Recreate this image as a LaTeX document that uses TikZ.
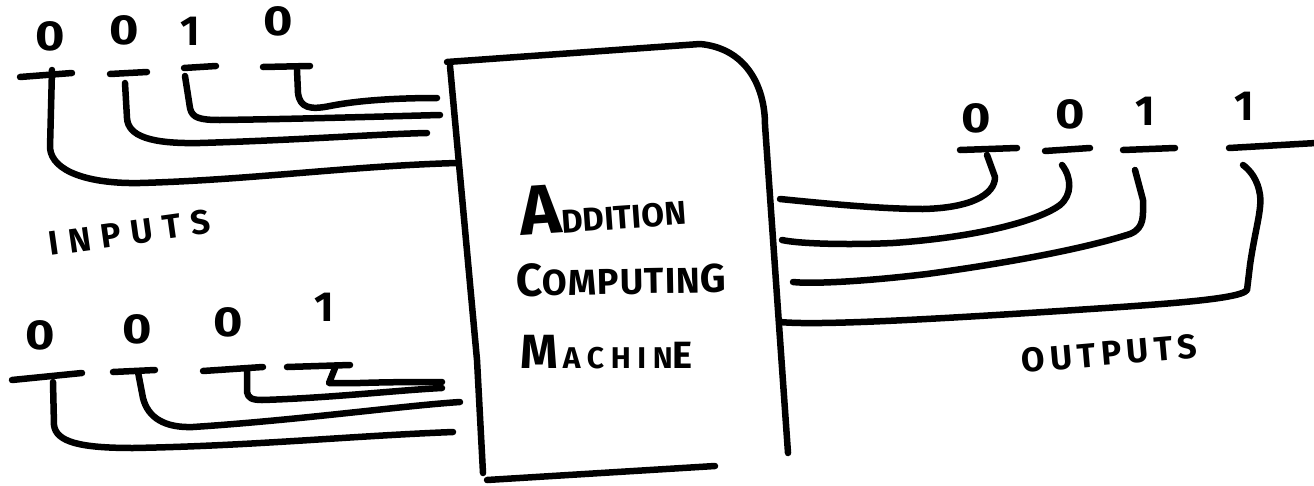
\documentclass[tikz,border=0pt]{standalone}
\usepackage{fontspec}
\setmainfont{Fira Sans}
\newcommand{\zero}{\scalebox{1.2}[1]{0}}
\newcommand{\fs}[1]{\fontsize{#1}{#1}\selectfont}
\begin{document}
\begin{tikzpicture}[x=1pt,y=-1pt,
  wire/.style={line width=6.5pt,line cap=round,line join=round},
  pad/.style={line width=6.5pt,line cap=round},
  digit/.style={inner sep=0pt,font=\fontsize{42}{42}\bfseries\selectfont},
  word/.style={inner sep=0pt,anchor=base west,font=\bfseries}]
\useasboundingbox (0,0) rectangle (1314,485);

% ---------- machine ----------
\coordinate (boxTL) at (447,62);
\draw[wire] (boxTL) -- (700,44) .. controls (745,48) and (765,85) .. (765,125) -- (788,453);
\draw[wire] (450,66) -- (477,360) -- (483,473);
\draw[wire] (487,480) -- (715,466);
\node[word,rotate=4] (line1) at (521,236)
  {\fs{70}A\fs{33}DDITION};
\node[word,rotate=1] (line2) at (516,296)
  {\fs{46}C\fs{36}\addfontfeature{LetterSpace=3}OMPUTIN\fs{40}G};
\node[word] (line3) at (520,368)
  {\fs{48}M\hspace{5pt}\fs{30}\addfontfeature{LetterSpace=22}ACHIN\fs{38}E};

% ---------- first input word ----------
\node[digit] (a1) at (50,36) {\zero};
\node[digit] (a2) at (124,30) {\zero};
\node[digit] (a3) at (190,31) {1};
\node[digit] (a4) at (278,21) {\zero};
\coordinate (pa1l) at (20,77); \coordinate (pa1r) at (72,73);
\coordinate (pa2l) at (110,74); \coordinate (pa2r) at (147,72);
\coordinate (pa3l) at (184,68); \coordinate (pa3r) at (216,66);
\coordinate (pa4l) at (263,67); \coordinate (pa4r) at (310,66);
\foreach \i in {1,...,4} \draw[pad] (pa\i l) -- (pa\i r);
\coordinate (ta1) at (52,70);  \coordinate (ba1) at (457,163);
\coordinate (ta2) at (125,83); \coordinate (ba2) at (427,133);
\coordinate (ta3) at (185,76); \coordinate (ba3) at (440,115);
\coordinate (ta4) at (297,70); \coordinate (ba4) at (437,98);
\draw[wire] (ta1) -- (50,148) .. controls (52,172) and (90,184) .. (140,183) .. controls (250,180) and (350,166) .. (ba1);
\draw[wire] (ta2) -- (127,118) .. controls (128,136) and (150,144) .. (200,143) .. controls (300,140) and (380,134) .. (ba2);
\draw[wire] (ta3) -- (190,108) .. controls (192,118) and (200,120) .. (220,120) .. controls (300,119) and (400,116) .. (ba3);
\draw[wire] (ta4) -- (298,93) .. controls (300,108) and (310,110) .. (330,106) .. controls (360,100) and (400,98) .. (ba4);

% ---------- second input word ----------
\node[word,rotate=8] (inlab) at (50,256) {\fs{34}\addfontfeature{LetterSpace=30}INPUTS};
\node[digit] (b1) at (40,335) {\zero};
\node[digit] (b2) at (137,329) {\zero};
\node[digit] (b3) at (228,322) {\zero};
\node[digit] (b4) at (324,307) {1};
\coordinate (pb1l) at (12,380); \coordinate (pb1r) at (82,373);
\coordinate (pb2l) at (113,372); \coordinate (pb2r) at (155,370);
\coordinate (pb3l) at (203,371); \coordinate (pb3r) at (263,367);
\coordinate (pb4l) at (287,367); \coordinate (pb4r) at (350,365);
\foreach \i in {1,...,4} \draw[pad] (pb\i l) -- (pb\i r);
\coordinate (tb1) at (53,382); \coordinate (bb1) at (453,432);
\coordinate (tb2) at (138,372); \coordinate (bb2) at (460,402);
\coordinate (tb3) at (247,370); \coordinate (bb3) at (442,388);
\coordinate (tb4) at (335,368); \coordinate (bb4) at (442,382);
\draw[wire] (tb1) -- (54,425) .. controls (56,442) and (80,448) .. (133,448) .. controls (250,446) and (350,436) .. (bb1);
\draw[wire] (tb2) -- (143,398) .. controls (148,418) and (165,428) .. (193,427) .. controls (300,420) and (400,406) .. (bb2);
\draw[wire] (tb3) -- (247,392) .. controls (248,398) and (252,400) .. (262,400) .. controls (330,398) and (400,390) .. (bb3);
\draw[wire] (tb4) -- (329,383) -- (360,383) .. controls (390,382) and (420,382) .. (bb4);

% ---------- output word ----------
\node[digit] (c1) at (976,118) {\zero};
\node[digit] (c2) at (1070,114) {\zero};
\node[digit] (c3) at (1145,111) {1};
\node[digit] (c4) at (1244,106) {1};
\coordinate (pc1l) at (960,150); \coordinate (pc1r) at (1017,148);
\coordinate (pc2l) at (1045,151); \coordinate (pc2r) at (1090,148);
\coordinate (pc3l) at (1123,150); \coordinate (pc3r) at (1175,148);
\coordinate (pc4l) at (1229,148); \coordinate (pc4r) at (1316,143);
\foreach \i in {1,...,4} \draw[pad] (pc\i l) -- (pc\i r);
\coordinate (oc1) at (780,199);  \coordinate (tc1) at (987,155);
\coordinate (oc2) at (782,240);  \coordinate (tc2) at (1062,165);
\coordinate (oc3) at (793,282);  \coordinate (tc3) at (1135,170);
\coordinate (oc4) at (780,322);  \coordinate (tc4) at (1243,165);
\draw[wire] (oc1) .. controls (820,203) and (880,209) .. (923,209) .. controls (970,208) and (995,195) .. (995,177) -- (tc1);
\draw[wire] (oc2) .. controls (800,244) and (850,245) .. (893,243) .. controls (980,237) and (1040,220) .. (1060,205) .. controls (1072,195) and (1072,178) .. (tc2);
\draw[wire] (oc3) .. controls (810,284) and (860,282) .. (927,274) .. controls (1000,264) and (1080,250) .. (1130,234) .. controls (1145,228) and (1143,215) .. (1143,200) -- (tc3);
\draw[wire] (oc4) .. controls (820,326) and (950,318) .. (1060,311) .. controls (1150,305) and (1240,300) .. (1247,290) -- (1250,265) .. controls (1255,230) and (1262,210) .. (1260,195) .. controls (1258,180) and (1250,170) .. (tc4);
\node[word,rotate=5] (outlab) at (1022,373) {\fs{34}\addfontfeature{LetterSpace=16}OUTPUTS};
\end{tikzpicture}
\end{document}
